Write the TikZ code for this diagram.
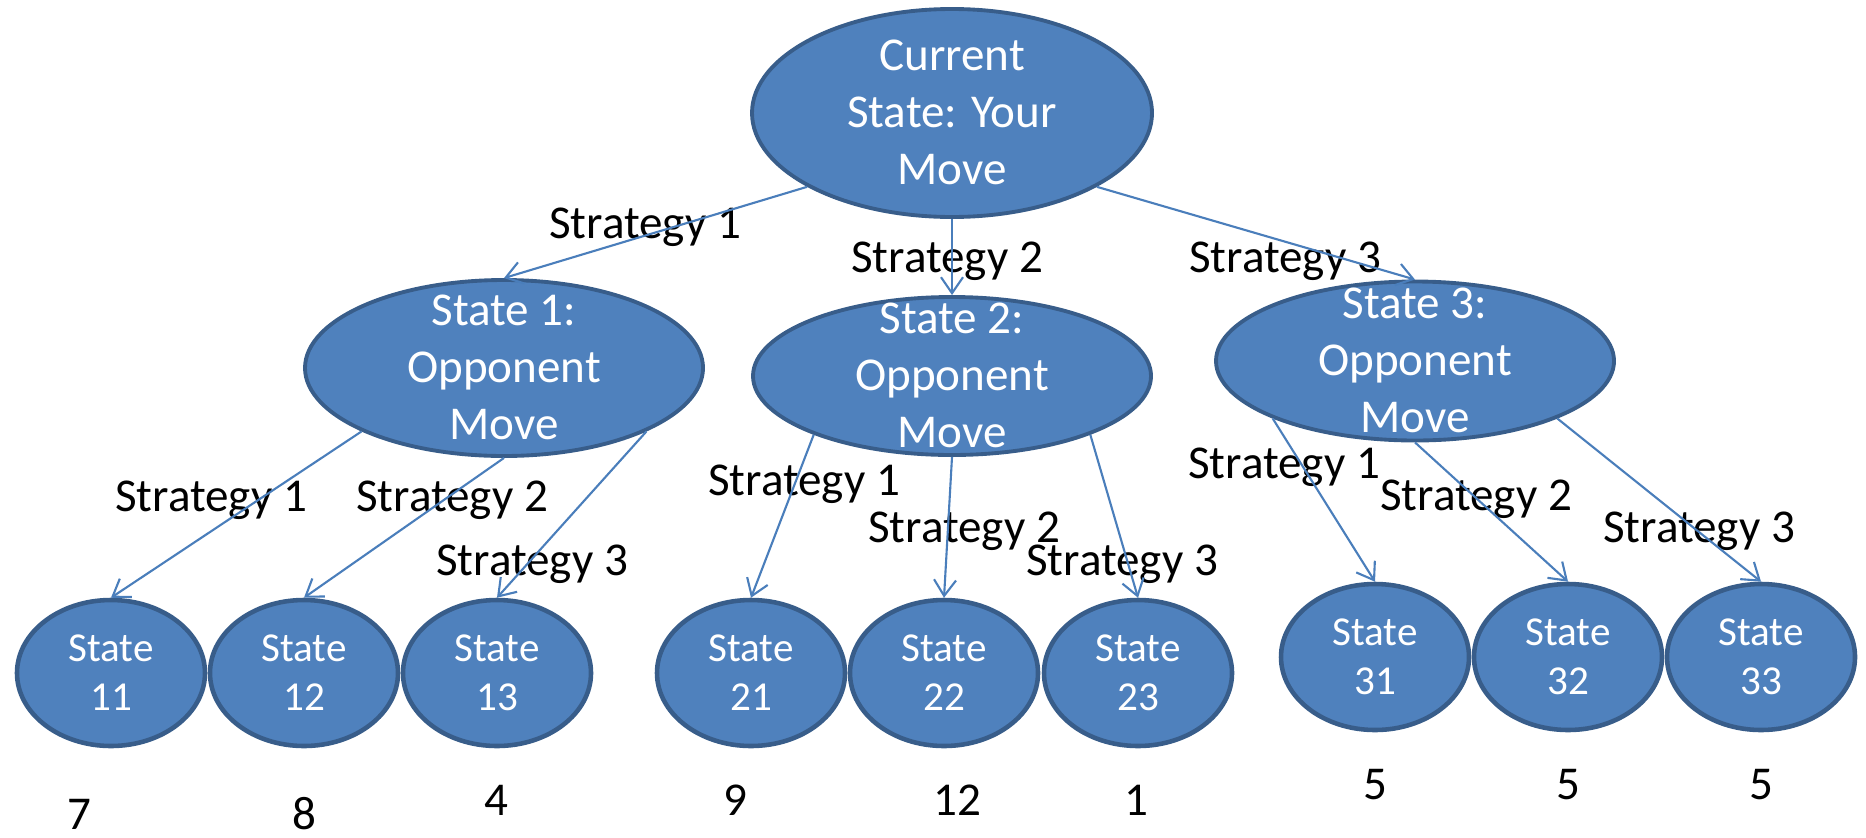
\documentclass[tikz,border=0pt]{standalone}
\usepackage{fontspec}
\setmainfont{Carlito}
\usetikzlibrary{shapes.geometric,arrows.meta}
\definecolor{stfill}{HTML}{4F81BD}
\definecolor{stline}{HTML}{385D8A}
\definecolor{arrblue}{HTML}{4A7EBB}
\newcommand{\intext}[1]{\smash{\raisebox{-0.33em}{\begin{tabular}{@{}c@{}}#1\end{tabular}}}}
\tikzset{
	bignode/.style={
		ellipse,
		fill=stfill,
		draw=stline,
		line width=1.1pt,
		inner sep=0pt,
		text=white,
		font=\fontsize{13.4}{16.2}\selectfont
	},
	leafnode/.style={
		bignode,
		line width=1.3pt,
		minimum width=1.88cm,
		minimum height=1.46cm,
		font=\fontsize{11.7}{14.2}\selectfont
	},
	stratlabel/.style={
		inner sep=0pt,
		font=\fontsize{13.4}{16.2}\selectfont
	},
	movearrow/.style={
		draw=arrblue,
		line width=0.6pt,
		-{Straight Barb[length=1.6mm,width=2.2mm]}
	}
}

\begin{document}
\begin{tikzpicture}
			\useasboundingbox (0,0) rectangle (18.66,-8.37);
			\node[bignode, minimum width=4cm, minimum height=2.08cm] (root) at (9.52,-1.13) {\intext{Current\\State: Your\\Move}};
			\node[bignode, minimum width=3.98cm, minimum height=1.76cm] (s1) at (5.04,-3.68) {\intext{State 1:\\Opponent\\Move}};
			\node[bignode, minimum width=3.98cm, minimum height=1.58cm] (s2) at (9.52,-3.76) {\intext{State 2:\\Opponent\\Move}};
			\node[bignode, minimum width=3.98cm, minimum height=1.59cm] (s3) at (14.15,-3.61) {\intext{State 3:\\Opponent\\Move}};

			\node[leafnode] (s11) at (1.11,-6.73) {\intext{State\\11}};
			\node[leafnode] (s12) at (3.04,-6.73) {\intext{State\\12}};
			\node[leafnode] (s13) at (4.97,-6.73) {\intext{State\\13}};
			\node[leafnode] (s21) at (7.51,-6.73) {\intext{State\\21}};
			\node[leafnode] (s22) at (9.44,-6.73) {\intext{State\\22}};
			\node[leafnode] (s23) at (11.38,-6.73) {\intext{State\\23}};
			\node[leafnode] (s31) at (13.75,-6.57) {\intext{State\\31}};
			\node[leafnode] (s32) at (15.68,-6.57) {\intext{State\\32}};
			\node[leafnode] (s33) at (17.61,-6.57) {\intext{State\\33}};

			\node[stratlabel] (p11) at (0.79,-8.14) {7};
			\node[stratlabel] (p12) at (3.04,-8.14) {8};
			\node[stratlabel] (p13) at (4.96,-8.00) {4};
			\node[stratlabel] (p21) at (7.35,-8.00) {9};
			\node[stratlabel] (p22) at (9.57,-8.00) {12};
			\node[stratlabel] (p23) at (11.36,-8.00) {1};
			\node[stratlabel] (p31) at (13.75,-7.85) {5};
			\node[stratlabel] (p32) at (15.68,-7.85) {5};
			\node[stratlabel] (p33) at (17.61,-7.85) {5};

			\node[stratlabel] (l0a) at (6.45,-2.27) {Strategy 1};
			\node[stratlabel] (l0b) at (9.47,-2.61) {Strategy 2};
			\node[stratlabel] (l0c) at (12.85,-2.61) {Strategy 3};
			\node[stratlabel] (l1a) at (2.11,-5.00) {Strategy 1};
			\node[stratlabel] (l1b) at (4.52,-5.00) {Strategy 2};
			\node[stratlabel] (l1c) at (5.32,-5.64) {Strategy 3};
			\node[stratlabel] (l2a) at (8.04,-4.84) {Strategy 1};
			\node[stratlabel] (l2b) at (9.64,-5.31) {Strategy 2};
			\node[stratlabel] (l2c) at (11.22,-5.64) {Strategy 3};
			\node[stratlabel] (l3a) at (12.84,-4.67) {Strategy 1};
			\node[stratlabel] (l3b) at (14.76,-4.99) {Strategy 2};
			\node[stratlabel] (l3c) at (16.99,-5.31) {Strategy 3};

			\draw[movearrow] (root.207) -- (s1.north);
			\draw[movearrow] (root.south) -- (s2.north);
			\draw[movearrow] (root.333) -- (s3.north);
			\draw[movearrow] (s1.204) -- (s11.north);
			\draw[movearrow] (s1.south) -- (s12.north);
			\draw[movearrow] (s1.336) -- (s13.north);
			\draw[movearrow] (s2.203) -- (s21.north);
			\draw[movearrow] (s2.south) -- (s22.north);
			\draw[movearrow] (s2.337) -- (s23.north);
			\draw[movearrow] (s3.202) -- (s31.north);
			\draw[movearrow] (s3.south) -- (s32.north);
			\draw[movearrow] (s3.338) -- (s33.north);
		\end{tikzpicture}
\end{document}
